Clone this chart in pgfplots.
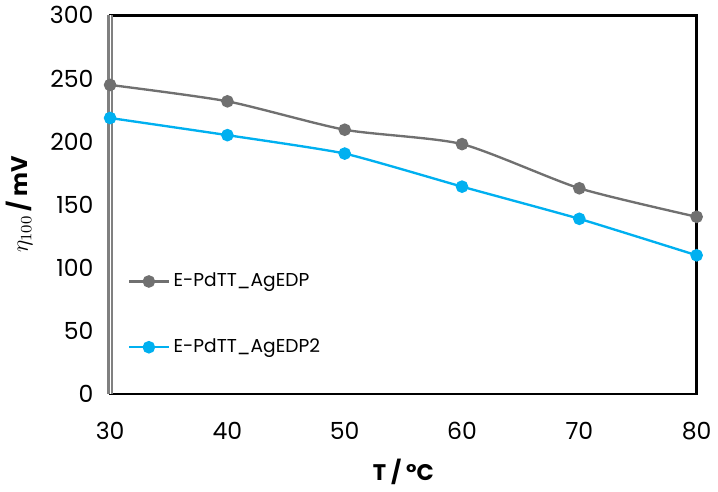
\documentclass[border=0pt]{standalone}
\usepackage{pgfplots}
\pgfplotsset{compat=1.18}
\usepackage{fontspec}
\setmainfont{Poppins}
\definecolor{sgrey}{RGB}{112,112,112}
\definecolor{sblue}{RGB}{0,176,240}
\begin{document}
\begin{tikzpicture}
\begin{axis}[
  scale only axis,
  width=299pt, height=193pt,
  xmin=30, xmax=80, ymin=0, ymax=300,
  xtick={30,40,50,60,70,80},
  ytick={0,50,100,150,200,250,300},
  major tick length=0pt,
  /pgf/number format/assume math mode=true,
  tick label style={font=\fontsize{12}{14}\selectfont},
  xticklabel style={yshift=-11pt},
  yticklabel style={xshift=-5pt},
  axis line style={black, line width=1.3pt},
  xlabel={\bfseries T / °C},
  xlabel style={font=\fontsize{11.5}{13}\selectfont, yshift=-3pt},
  ylabel={$\eta_{100}$\,\textbf{/ mV}},
  ylabel style={font=\fontsize{11.5}{13}\selectfont, yshift=2pt},
  legend style={draw=none, fill=none, at={(0.03,0.21)}, anchor=west,
    font=\fontsize{9.5}{11}\selectfont, row sep=21pt, inner sep=0pt},
  legend cell align=left,
  legend image code/.code={\draw[#1] (0pt,0pt) -- (20pt,0pt); \fill[#1] (10pt,0pt) circle (2.6pt);},
  clip=false,
]
\addplot[sgrey, line width=1.2pt, smooth, tension=0.4, mark=*, mark size=2.6pt, mark options={fill=sgrey, draw=sgrey}] coordinates {
(30,244.8) (40,231.8) (50,209.3) (60,197.9) (70,162.9) (80,140.3)};
\addlegendentry{E-PdTT\_AgEDP}
\addplot[sblue, line width=1.2pt, smooth, tension=0.3, mark=*, mark size=2.6pt, mark options={fill=sblue, draw=sblue}] coordinates {
(30,218.6) (40,205.0) (50,190.4) (60,164.2) (70,138.7) (80,109.8)};
\addlegendentry{E-PdTT\_AgEDP2}
\draw[gray, line width=1.1pt, double=white, double distance=0.5pt] (rel axis cs:0,0) -- (rel axis cs:0,1);
\end{axis}
\end{tikzpicture}
\end{document}
